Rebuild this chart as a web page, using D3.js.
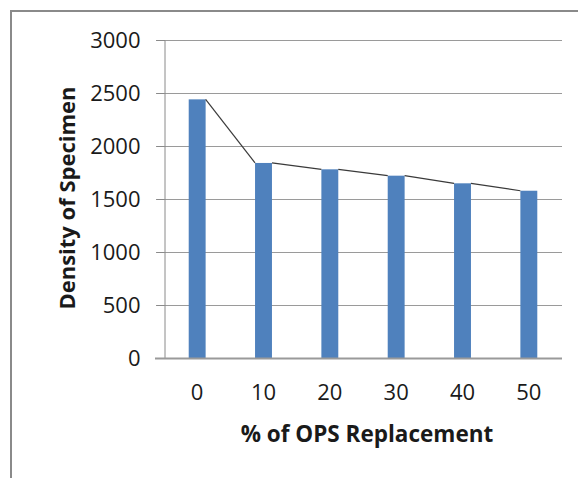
<!DOCTYPE html>
<html>
<head>
<meta charset="utf-8">
<script src="https://cdn.jsdelivr.net/npm/d3@7/dist/d3.min.js"></script>
<style>
  html, body { margin: 0; padding: 0; background: #fff; }
  svg { display: block; }
  text { font-family: "Open Sans", "DejaVu Sans", sans-serif; fill: #1a1a1a; }
</style>
</head>
<body>
<svg id="chart" width="578" height="478"></svg>
<script>
// Density of specimen against percentage of OPS replacement
const categories = ["0", "10", "20", "30", "40", "50"];
const density = [2440, 1840, 1780, 1720, 1648, 1578];
const yTicks = [0, 500, 1000, 1500, 2000, 2500, 3000];

const svg = d3.select("#chart");
const W = 578, H = 478;
const plot = { left: 164, right: 562, top: 40, bottom: 358 };

// chart frame (runs past the right and bottom edges)
svg.append("rect")
  .attr("x", 11).attr("y", 11)
  .attr("width", W + 20).attr("height", H + 20)
  .attr("fill", "#fff")
  .attr("stroke", "#8a8a8a")
  .attr("stroke-width", 2);

const x = d3.scaleBand()
  .domain(categories)
  .range([plot.left, plot.right])
  .paddingInner(0.745)
  .paddingOuter(0.3725);

const y = d3.scaleLinear()
  .domain([0, 3000])
  .range([plot.bottom, plot.top]);

// horizontal gridlines
svg.append("g")
  .selectAll("line")
  .data(yTicks.filter(d => d > 0))
  .join("line")
  .attr("x1", plot.left - 8).attr("x2", plot.right)
  .attr("y1", d => Math.round(y(d)) + 0.5)
  .attr("y2", d => Math.round(y(d)) + 0.5)
  .attr("stroke", "#9a9a9a")
  .attr("stroke-width", 1);

// y axis
const yAxis = d3.axisLeft(y).tickValues(yTicks).tickFormat(d3.format("d"))
  .tickSize(8).tickPadding(16);
const gy = svg.append("g")
  .attr("transform", `translate(${plot.left + 0.5},0)`)
  .call(yAxis);
gy.select(".domain").attr("stroke", "#8a8a8a");
gy.selectAll(".tick line").attr("stroke", "#8a8a8a");
gy.selectAll(".tick text")
  .attr("font-size", 22)
  .attr("font-family", "Open Sans, sans-serif")
  .attr("fill", "#1a1a1a");

// bars
svg.append("g")
  .selectAll("rect")
  .data(density)
  .join("rect")
  .attr("x", (d, i) => x(categories[i]))
  .attr("y", d => y(d))
  .attr("width", x.bandwidth())
  .attr("height", d => y(0) - y(d))
  .attr("fill", "#4f81bd");

// series lines joining the top of each bar to the next
const links = density.slice(0, -1).map((d, i) => [
  [x(categories[i]) + x.bandwidth(), y(d)],
  [x(categories[i + 1]), y(density[i + 1])]
]);
svg.append("g")
  .selectAll("line")
  .data(links)
  .join("line")
  .attr("x1", d => d[0][0]).attr("y1", d => d[0][1])
  .attr("x2", d => d[1][0]).attr("y2", d => d[1][1])
  .attr("stroke", "#3a3a3a")
  .attr("stroke-width", 1.2);

// x axis
const xAxis = d3.axisBottom(x).tickSize(0).tickPadding(26);
const gx = svg.append("g")
  .attr("transform", `translate(0,${plot.bottom + 0.5})`)
  .call(xAxis);
gx.select(".domain").attr("stroke", "#9a9a9a").attr("stroke-width", 2)
  .attr("d", `M${plot.left - 9},0H${plot.right}`);
gx.selectAll(".tick text")
  .attr("font-size", 22)
  .attr("font-family", "Open Sans, sans-serif")
  .attr("fill", "#1a1a1a");

// axis titles
svg.append("text")
  .attr("x", 367).attr("y", 442)
  .attr("text-anchor", "middle")
  .attr("font-size", 22.5)
  .attr("font-weight", "bold")
  .text("% of OPS Replacement");

svg.append("text")
  .attr("transform", "translate(75,198) rotate(-90)")
  .attr("text-anchor", "middle")
  .attr("font-size", 22)
  .attr("font-weight", "bold")
  .text("Density of Specimen");
</script>
</body>
</html>
